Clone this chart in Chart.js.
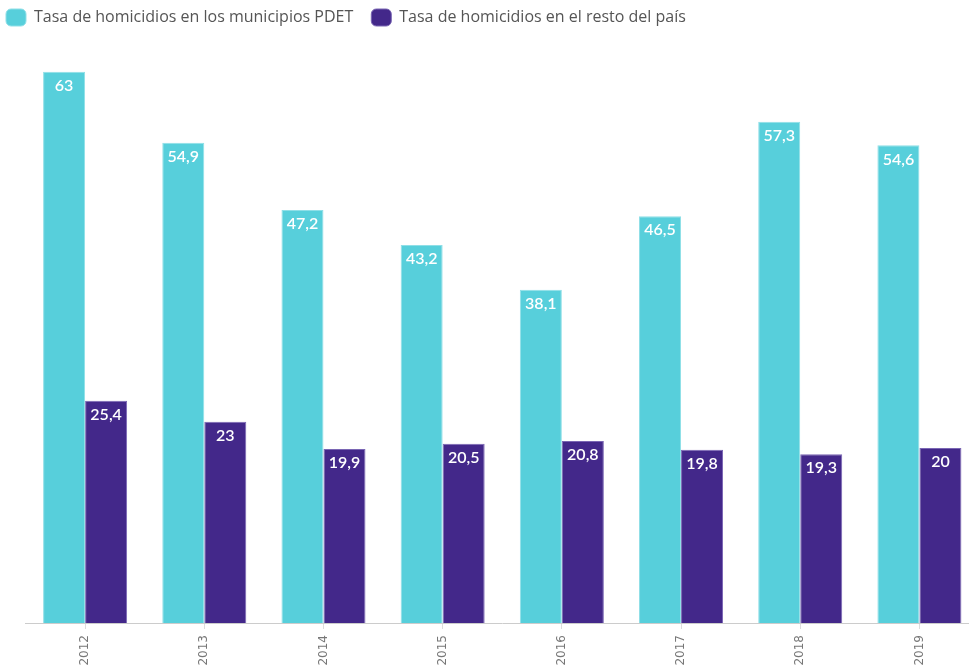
<!DOCTYPE html>
<html>
<head>
<meta charset="utf-8">
<style>
  html, body { margin: 0; padding: 0; background: #fff; }
  #wrap { position: relative; width: 969px; height: 671px; overflow: hidden; }
  #chart { position: absolute; left: -12px; top: -9px; }
</style>
</head>
<body>
<div id="wrap"><canvas id="chart" width="991" height="680"></canvas></div>
<script src="https://cdn.jsdelivr.net/npm/chart.js@4/dist/chart.umd.min.js"></script>
<script>
// Homicide rate, PDET municipalities vs rest of the country
var years = ['2012', '2013', '2014', '2015', '2016', '2017', '2018', '2019'];
var pdet = [63, 54.9, 47.2, 43.2, 38.1, 46.5, 57.3, 54.6];
var resto = [25.4, 23, 19.9, 20.5, 20.8, 19.8, 19.3, 20];

var seriesNames = [
  'Tasa de homicidios en los municipios PDET',
  'Tasa de homicidios en el resto del país'
];

// white value labels inside the top of each bar
var barLabels = {
  id: 'barLabels',
  afterDatasetsDraw: function (chart) {
    var ctx = chart.ctx;
    ctx.save();
    ctx.fillStyle = '#fff';
    ctx.font = '600 16px Lato';
    ctx.textAlign = 'center';
    ctx.textBaseline = 'middle';
    chart.data.datasets.forEach(function (ds, i) {
      chart.getDatasetMeta(i).data.forEach(function (bar, j) {
        var txt = String(ds.data[j]).replace('.', ',');
        ctx.fillText(txt, bar.x, bar.y + 14);
      });
    });
    ctx.restore();
  }
};

new Chart(document.getElementById('chart'), {
  type: 'bar',
  data: {
    labels: years,
    datasets: [{
      label: seriesNames[0],
      data: pdet,
      backgroundColor: '#57cfdb',
      borderColor: '#8fdfe7',
      borderWidth: 1
    }, {
      label: seriesNames[1],
      data: resto,
      backgroundColor: '#43288a',
      borderColor: '#7a66b4',
      borderWidth: 1
    }]
  },
  options: {
    responsive: false,
    animation: false,
    categoryPercentage: 0.705,
    barPercentage: 1.0,
    layout: { padding: 0 },
    plugins: {
      tooltip: { enabled: false },
      legend: {
        position: 'top',
        align: 'start',
        labels: {
          boxWidth: 20,
          boxHeight: 17,
          padding: 18,
          useBorderRadius: true,
          borderRadius: 5,
          color: '#555',
          font: { family: 'Open Sans', size: 16 }
        }
      }
    },
    scales: {
      x: {
        grid: { display: true, offset: false, drawOnChartArea: false, tickLength: 6, color: '#ddd' },
        border: { color: '#ccc' },
        ticks: {
          color: '#777',
          minRotation: 90,
          maxRotation: 90,
          padding: 6,
          font: { family: 'DejaVu Sans', size: 12 }
        },
        afterFit: function (s) { s.height = 48; }
      },
      y: {
        min: 0,
        max: 67.1,
        grid: { display: false },
        border: { display: false },
        ticks: { display: false },
        afterFit: function (s) { s.width = 37.5; }
      }
    }
  },
  plugins: [barLabels]
});
</script>
</body>
</html>
